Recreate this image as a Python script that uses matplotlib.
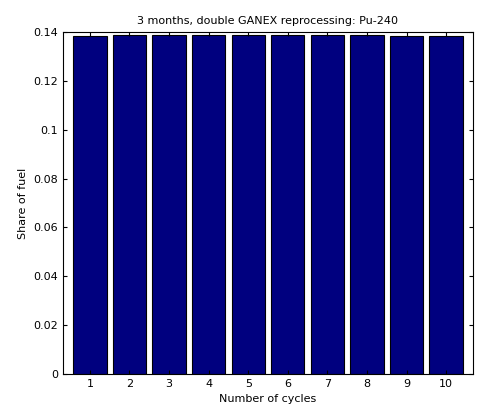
import matplotlib
matplotlib.use("Agg")
import matplotlib.pyplot as plt

cycles = [1, 2, 3, 4, 5, 6, 7, 8, 9, 10]
share = [0.1384, 0.1387, 0.1388, 0.1388, 0.1388, 0.1388, 0.1387, 0.1387, 0.1385, 0.1384]

fig = plt.figure(figsize=(4.89, 4.20), dpi=100)
ax = fig.add_axes([63/489, 46/420, 410/489, 342/420])
ax.bar(cycles, share, width=0.84, color='#00007f', edgecolor='black', linewidth=0.8)
ax.set_xlim(0.32, 10.68)
ax.set_ylim(0, 0.14)
ax.set_xticks(cycles)
ax.set_yticks([0, 0.02, 0.04, 0.06, 0.08, 0.1, 0.12, 0.14])
ax.set_yticklabels(['0', '0.02', '0.04', '0.06', '0.08', '0.1', '0.12', '0.14'])
ax.tick_params(direction='in', labelsize=8, top=True, right=True, length=3)
ax.set_xlabel('Number of cycles', fontsize=8)
ax.set_ylabel('Share of fuel', fontsize=8)
ax.set_title('3 months, double GANEX reprocessing: Pu-240', fontsize=8)
fig.savefig('out.png', dpi=100)
